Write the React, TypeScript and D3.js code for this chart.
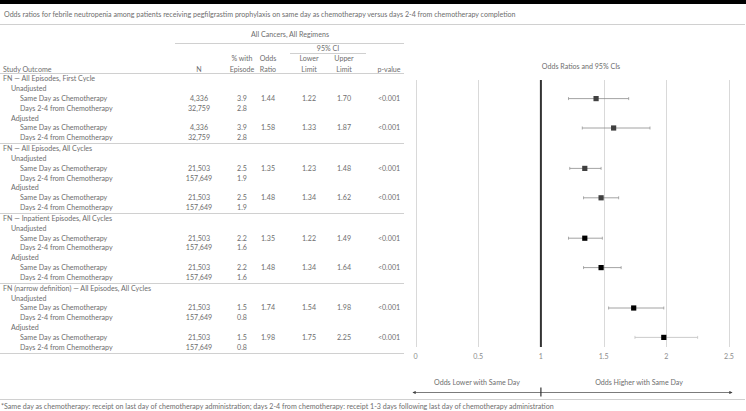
import React, { useEffect, useRef } from 'react';
import * as d3 from 'd3';

// forest plot: odds ratios for FN, same day vs days 2-4 pegfilgrastim

const outcomes = [
  'FN — All Episodes, First Cycle',
  'FN — All Episodes, All Cycles',
  'FN — Inpatient Episodes, All Cycles',
  'FN (narrow definition) — All Episodes, All Cycles',
];
const adjustments = ['Unadjusted', 'Adjusted'];
const timingLabels = ['Same Day as Chemotherapy', 'Days 2-4 from Chemotherapy'];

// one entry per outcome x adjustment
const sameDayN = ['4,336', '4,336', '21,503', '21,503', '21,503', '21,503', '21,503', '21,503'];
const daysN = ['32,759', '32,759', '157,649', '157,649', '157,649', '157,649', '157,649', '157,649'];
const sameDayPct = ['3.9', '3.9', '2.5', '2.5', '2.2', '2.2', '1.5', '1.5'];
const daysPct = ['2.8', '2.8', '1.9', '1.9', '1.6', '1.6', '0.8', '0.8'];
const oddsRatio = [1.44, 1.58, 1.35, 1.48, 1.35, 1.48, 1.74, 1.98];
const lowerLimit = [1.22, 1.33, 1.23, 1.34, 1.22, 1.34, 1.54, 1.75];
const upperLimit = [1.70, 1.87, 1.48, 1.62, 1.49, 1.64, 1.98, 2.25];
const pValues = ['<0.001', '<0.001', '<0.001', '<0.001', '<0.001', '<0.001', '<0.001', '<0.001'];

const xTicks = [0, 0.5, 1, 1.5, 2, 2.5];

const title = 'Odds ratios for febrile neutropenia among patients receiving pegfilgrastim prophylaxis on same day as chemotherapy versus days 2-4 from chemotherapy completion';
const footnote = '*Same day as chemotherapy: receipt on last day of chemotherapy administration; days 2-4 from chemotherapy: receipt 1-3 days following last day of chemotherapy administration';

const width = 746;
const height = 411;
const font = 'Lato, "Open Sans", sans-serif';
const fs = 7.1;
const textColor = '#6e6e6e';
const ruleColor = '#d0d0d0';

// column centres of the table
const cols = { n: 199, pct: 242, or: 268, lo: 309, hi: 344, p: 389 };

const App = () => {
  const chartRef = useRef(null);

  useEffect(() => {
    const svg = d3.select(chartRef.current);
    svg.selectAll('*').remove();
    draw(svg);
  });

  const rowsPerGroup = 7;
  const rowY = d3.scaleLinear().domain([0, 1]).range([79, 79 + 9.8]);
  const yOf = (g, r) => rowY(g * rowsPerGroup + r) + g * 1.2;

  const xScale = d3.scaleLinear().domain([0, 2.5]).range([415.5, 729]);

  const text = (sel, x, y, str, anchor = 'start', color = textColor, size = fs) =>
    sel.append('text')
      .attr('x', x).attr('y', y)
      .attr('dy', '0.35em')
      .attr('text-anchor', anchor)
      .attr('fill', color)
      .attr('font-size', size)
      .attr('font-family', font)
      .text(str);

  const hline = (sel, x1, x2, y, color = ruleColor, w = 1) =>
    sel.append('line')
      .attr('x1', x1).attr('x2', x2)
      .attr('y1', y).attr('y2', y)
      .attr('stroke', color).attr('stroke-width', w);

  const draw = (svg) => {
    svg.append('rect').attr('x', 0).attr('y', 0).attr('width', width).attr('height', height).attr('fill', '#fff');
    svg.append('rect').attr('x', 0).attr('y', 0).attr('width', width).attr('height', 4).attr('fill', '#000');

    text(svg, 4, 14.5, title);
    hline(svg, 0, 745, 24.5);

    // table header
    text(svg, 290, 34.5, 'All Cancers, All Regimens', 'middle');
    hline(svg, 175, 404, 43.5);
    text(svg, 328, 49, '95% CI', 'middle');
    hline(svg, 290, 366, 53.5);
    text(svg, cols.pct, 59, '% with', 'middle');
    text(svg, cols.or, 59, 'Odds', 'middle');
    text(svg, cols.lo, 59, 'Lower', 'middle');
    text(svg, cols.hi, 59, 'Upper', 'middle');
    text(svg, 3, 69.5, 'Study Outcome');
    text(svg, cols.n, 69.5, 'N', 'middle');
    text(svg, cols.pct, 69.5, 'Episode', 'middle');
    text(svg, cols.or, 69.5, 'Ratio', 'middle');
    text(svg, cols.lo, 69.5, 'Limit', 'middle');
    text(svg, cols.hi, 69.5, 'Limit', 'middle');
    text(svg, cols.p, 69.5, 'p-value', 'middle');
    hline(svg, 0, 404, 73.5);

    // table body
    const body = svg.append('g');
    outcomes.forEach((label, g) => {
      text(body, 3, yOf(g, 0), label);
      adjustments.forEach((adj, a) => {
        const i = g * 2 + a;
        const r = 1 + a * 3;
        text(body, 11, yOf(g, r), adj);
        text(body, 20, yOf(g, r + 1), timingLabels[0]);
        text(body, 20, yOf(g, r + 2), timingLabels[1]);
        text(body, cols.n, yOf(g, r + 1), sameDayN[i], 'middle');
        text(body, cols.n, yOf(g, r + 2), daysN[i], 'middle');
        text(body, cols.pct, yOf(g, r + 1), sameDayPct[i], 'middle');
        text(body, cols.pct, yOf(g, r + 2), daysPct[i], 'middle');
        text(body, cols.or, yOf(g, r + 1), d3.format('.2f')(oddsRatio[i]), 'middle');
        text(body, cols.lo, yOf(g, r + 1), d3.format('.2f')(lowerLimit[i]), 'middle');
        text(body, cols.hi, yOf(g, r + 1), d3.format('.2f')(upperLimit[i]), 'middle');
        text(body, cols.p, yOf(g, r + 1), pValues[i], 'middle');
      });
      hline(body, 0, 404, Math.round(yOf(g, 6) + 5.5) + 0.5);
    });

    // forest plot
    const plot = svg.append('g');
    text(plot, 581, 67, 'Odds Ratios and 95% CIs', 'middle');

    const top = 80;
    const bottom = 347;
    plot.selectAll('line.grid')
      .data(xTicks.filter(t => t !== 1))
      .join('line')
      .attr('class', 'grid')
      .attr('x1', d => Math.round(xScale(d)) + 0.5)
      .attr('x2', d => Math.round(xScale(d)) + 0.5)
      .attr('y1', top).attr('y2', bottom)
      .attr('stroke', '#d9d9d9').attr('stroke-width', 1);

    plot.append('line')
      .attr('x1', xScale(1)).attr('x2', xScale(1))
      .attr('y1', top).attr('y2', bottom)
      .attr('stroke', '#333').attr('stroke-width', 2);

    xTicks.forEach(t => text(plot, xScale(t), 357, d3.format('')(t), 'middle', '#8c8c8c'));

    const points = oddsRatio.map((or, i) => ({
      or, lo: lowerLimit[i], hi: upperLimit[i],
      g: Math.floor(i / 2),
      y: yOf(Math.floor(i / 2), 2 + (i % 2) * 3),
    }));

    const pts = plot.selectAll('g.pt').data(points).join('g').attr('class', 'pt');
    pts.append('line')
      .attr('x1', d => xScale(d.lo)).attr('x2', d => xScale(d.hi))
      .attr('y1', d => d.y).attr('y2', d => d.y)
      .attr('stroke', (d, i) => i === 7 ? '#bfbfbf' : '#8c8c8c').attr('stroke-width', 0.8);
    [d => d.lo, d => d.hi].forEach(acc => {
      pts.append('line')
        .attr('x1', d => xScale(acc(d))).attr('x2', d => xScale(acc(d)))
        .attr('y1', d => d.y - 1.5).attr('y2', d => d.y + 1.5)
        .attr('stroke', (d, i) => i === 7 ? '#bfbfbf' : '#8c8c8c').attr('stroke-width', 0.7);
    });
    pts.append('rect')
      .attr('x', d => xScale(d.or) - 2.6).attr('y', d => d.y - 2.6)
      .attr('width', 5.2).attr('height', 5.2)
      .attr('fill', d => d.g < 2 ? '#404040' : '#000');

    // direction arrows
    const ay = 392.5;
    const defs = svg.append('defs');
    defs.append('marker')
      .attr('id', 'arr').attr('viewBox', '0 0 6 6')
      .attr('refX', 5).attr('refY', 3)
      .attr('markerWidth', 4).attr('markerHeight', 4)
      .attr('orient', 'auto-start-reverse')
      .append('path').attr('d', 'M0,0 L6,3 L0,6 Z').attr('fill', '#404040');
    plot.append('line')
      .attr('x1', 413).attr('x2', 732)
      .attr('y1', ay).attr('y2', ay)
      .attr('stroke', '#595959').attr('stroke-width', 0.8)
      .attr('marker-start', 'url(#arr)').attr('marker-end', 'url(#arr)');
    plot.append('line')
      .attr('x1', xScale(1)).attr('x2', xScale(1))
      .attr('y1', ay - 5).attr('y2', ay + 4)
      .attr('stroke', '#333').attr('stroke-width', 1.2);
    text(plot, 477, 383, 'Odds Lower with Same Day', 'middle');
    text(plot, 639, 383, 'Odds Higher with Same Day', 'middle');

    hline(svg, 0, 745, 399.5);
    text(svg, 1, 407, footnote);
  };

  return (
    <div style={{ position: 'absolute', left: 0, top: 0 }}>
      <svg
        viewBox={`0, 0, ${width}, ${height}`}
        width={width}
        height={height}
        ref={chartRef}
        style={{ display: 'block' }}
      />
    </div>
  );
};

export default App;
